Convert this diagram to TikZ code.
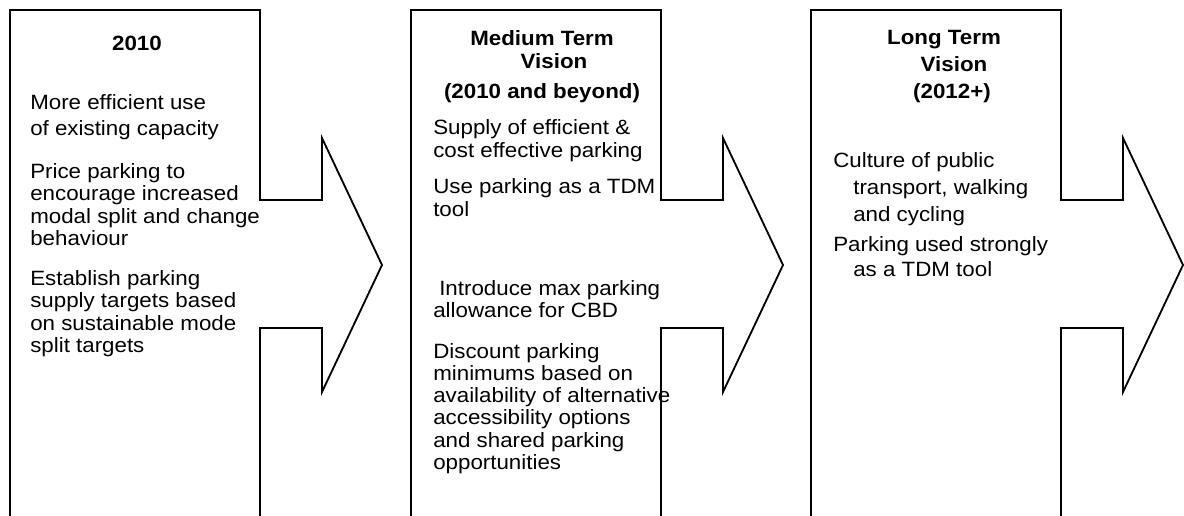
\documentclass[tikz,border=0pt]{standalone}
\usepackage{fontspec}
\setmainfont{Liberation Sans}[FakeStretch=1.08]
\usepackage{tikz}

\begin{document}
\begin{tikzpicture}[
    x=0.025cm,y=-0.025cm,
    contour/.style = {draw=black, line width=1.3pt, line join=miter},
    titre/.style   = {anchor=base, inner sep=0pt,
                      font=\fontsize{14.7}{15.65}\selectfont\bfseries},
    txt/.style     = {anchor=base west, inner sep=0pt, align=left,
                      font=\fontsize{14.7}{15.65}\selectfont},
  ]

  \tikzset{fleche/.pic={
      \draw[contour] (0,0) -- (250,0) -- (250,190) -- (312,190) -- (312,128)
        -- (372,255) -- (312,382) -- (312,318) -- (250,318) -- (250,510)
        -- (0,510) -- cycle;}}

  % Cadre de la page, le bas des fleches est coupe
  \clip (0,0) rectangle (1184,515);

  % Les trois fleches
  \pic at (10,10)  {fleche};
  \pic at (411,10) {fleche};
  \pic at (811,10) {fleche};

  % Premiere etape (textes places sur la ligne de base de leur derniere ligne)
  \node[titre] (an)    at (137,50)  {2010};
  \node[txt]   (eff)   at (30,135)  {More efficient use\\[2.8pt]of existing capacity};
  \node[txt]   (prix)  at (30,245)  {Price parking to\\encourage increased\\modal split and change\\behaviour};
  \node[txt]   (offre) at (30,352)  {Establish parking\\supply targets based\\on sustainable mode\\split targets};

  % Moyen terme
  \node[titre] (moy1)  at (542,45)  {Medium Term};
  \node[titre] (moy2)  at (554,68)  {Vision};
  \node[titre] (moy3)  at (542,98)  {(2010 and beyond)};
  \node[txt]   (sup)   at (433,157) {Supply of efficient \&\\cost effective parking};
  \node[txt]   (tdm)   at (433,216) {Use parking as a TDM\\tool};
  \node[txt]   (max)   at (433,317) {\hspace*{0.15cm}Introduce max parking\\allowance for CBD};
  \node[txt]   (rab)   at (433,469) {Discount parking\\minimums based on\\availability of alternative\\accessibility options\\and shared parking\\opportunities};

  % Long terme
  \node[titre] (long1) at (944,44)  {Long Term};
  \node[titre] (long2) at (954,71)  {Vision};
  \node[titre] (long3) at (952,98)  {(2012+)};
  \node[txt]   (cult)  at (833,221) {Culture of public\\[3.3pt]\hspace*{0.5cm}transport, walking\\[3.3pt]\hspace*{0.5cm}and cycling};
  \node[txt]   (usage) at (833,276) {Parking used strongly\\[1.5pt]\hspace*{0.5cm}as a TDM tool};

\end{tikzpicture}
\end{document}
